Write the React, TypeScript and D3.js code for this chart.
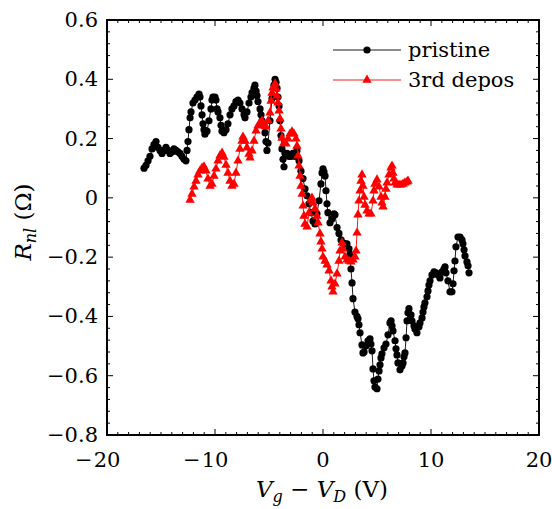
import React from "react";
import * as d3 from "d3";

const pristineV = [-16.57,-16.39,-16.2,-16.02,-15.83,-15.65,-15.46,-15.28,-15.09,-14.91,-14.72,-14.54,-14.35,-14.17,-13.98,-13.8,-13.61,-13.43,-13.24,-13.06,-12.87,-12.69,-12.59,-12.5,-12.41,-12.31,-12.22,-12.04,-11.85,-11.67,-11.48,-11.39,-11.3,-11.2,-11.11,-11.02,-10.93,-10.74,-10.56,-10.37,-10.28,-10.19,-10.0,-9.91,-9.81,-9.72,-9.54,-9.44,-9.35,-9.17,-8.98,-8.8,-8.61,-8.43,-8.24,-8.06,-7.87,-7.69,-7.5,-7.31,-7.22,-7.04,-6.85,-6.67,-6.57,-6.39,-6.3,-6.2,-6.11,-6.02,-5.83,-5.74,-5.65,-5.56,-5.37,-5.28,-5.19,-5.09,-4.91,-4.72,-4.54,-4.44,-4.35,-4.26,-4.17,-4.07,-3.98,-3.89,-3.8,-3.7,-3.61,-3.52,-3.33,-3.15,-2.96,-2.78,-2.59,-2.41,-2.22,-2.04,-1.85,-1.67,-1.48,-1.3,-1.11,-0.93,-0.74,-0.56,-0.37,-0.19,-0.09,0,0.09,0.19,0.28,0.37,0.46,0.65,0.83,1.02,1.11,1.3,1.48,1.67,1.85,2.04,2.22,2.41,2.5,2.59,2.69,2.78,2.96,3.15,3.24,3.33,3.43,3.61,3.7,3.8,3.98,4.17,4.35,4.44,4.54,4.63,4.72,4.81,5.0,5.09,5.19,5.28,5.37,5.46,5.65,5.83,6.02,6.2,6.3,6.39,6.48,6.67,6.76,6.85,6.94,7.13,7.31,7.41,7.5,7.59,7.69,7.78,7.87,7.96,8.15,8.24,8.43,8.52,8.7,8.89,8.98,9.17,9.26,9.35,9.44,9.63,9.72,9.81,9.91,10.09,10.28,10.46,10.65,10.83,11.02,11.2,11.3,11.39,11.57,11.76,11.94,12.04,12.13,12.22,12.31,12.5,12.69,12.87,12.96,13.06,13.15,13.33,13.43,13.52];
const pristineR = [0.1,0.11,0.125,0.14,0.165,0.18,0.19,0.17,0.16,0.15,0.16,0.17,0.16,0.15,0.155,0.165,0.16,0.155,0.15,0.14,0.13,0.125,0.16,0.19,0.23,0.27,0.29,0.32,0.33,0.34,0.35,0.34,0.31,0.28,0.25,0.23,0.215,0.225,0.26,0.3,0.33,0.34,0.34,0.33,0.3,0.29,0.27,0.245,0.225,0.22,0.23,0.25,0.28,0.3,0.31,0.325,0.33,0.32,0.3,0.28,0.27,0.29,0.32,0.34,0.355,0.37,0.38,0.36,0.345,0.325,0.3,0.28,0.26,0.245,0.22,0.19,0.16,0.185,0.26,0.335,0.38,0.4,0.39,0.37,0.34,0.31,0.26,0.21,0.165,0.13,0.105,0.15,0.15,0.14,0.14,0.15,0.14,0.16,0.125,0.09,0.065,0.03,0.007,-0.02,-0.05,-0.078,-0.088,-0.054,-0.01,0.047,0.084,0.098,0.088,0.074,0.024,-0.02,-0.05,-0.084,-0.071,-0.054,-0.057,-0.1,-0.12,-0.142,-0.152,-0.155,-0.155,-0.172,-0.19,-0.24,-0.287,-0.34,-0.385,-0.4,-0.408,-0.428,-0.455,-0.496,-0.523,-0.52,-0.5,-0.482,-0.476,-0.493,-0.516,-0.577,-0.617,-0.638,-0.644,-0.611,-0.584,-0.563,-0.54,-0.526,-0.506,-0.493,-0.462,-0.422,-0.415,-0.432,-0.449,-0.482,-0.509,-0.53,-0.557,-0.58,-0.567,-0.557,-0.536,-0.523,-0.472,-0.415,-0.388,-0.374,-0.395,-0.415,-0.432,-0.442,-0.455,-0.435,-0.422,-0.405,-0.385,-0.368,-0.354,-0.334,-0.314,-0.294,-0.28,-0.26,-0.25,-0.253,-0.26,-0.27,-0.25,-0.24,-0.233,-0.253,-0.28,-0.317,-0.317,-0.29,-0.246,-0.213,-0.165,-0.132,-0.132,-0.142,-0.155,-0.175,-0.196,-0.216,-0.229,-0.253];

const deposV = [-12.31,-12.13,-11.94,-11.76,-11.57,-11.39,-11.2,-11.02,-10.83,-10.65,-10.46,-10.28,-10.09,-9.91,-9.72,-9.54,-9.35,-9.17,-8.98,-8.8,-8.61,-8.43,-8.24,-8.06,-7.87,-7.69,-7.5,-7.41,-7.22,-7.04,-6.85,-6.76,-6.57,-6.39,-6.2,-6.02,-5.83,-5.65,-5.46,-5.28,-5.09,-4.91,-4.81,-4.72,-4.63,-4.44,-4.35,-4.26,-4.17,-4.07,-3.98,-3.89,-3.8,-3.61,-3.43,-3.24,-3.06,-2.87,-2.69,-2.5,-2.41,-2.31,-2.22,-2.13,-2.04,-1.94,-1.85,-1.76,-1.67,-1.48,-1.3,-1.11,-1.02,-0.93,-0.74,-0.56,-0.46,-0.28,-0.19,-0.09,0,0.19,0.37,0.56,0.74,0.83,0.93,1.11,1.3,1.48,1.57,1.76,1.85,2.04,2.22,2.41,2.59,2.78,2.96,3.06,3.15,3.24,3.33,3.43,3.52,3.61,3.7,3.8,3.89,4.07,4.26,4.44,4.63,4.72,4.81,5.0,5.19,5.37,5.46,5.56,5.74,5.83,5.93,6.11,6.3,6.39,6.48,6.57,6.67,6.85,7.04,7.22,7.41,7.59,7.78,7.87];
const deposR = [-0.007,0.013,0.037,0.057,0.078,0.091,0.101,0.105,0.091,0.064,0.04,0.047,0.074,0.098,0.125,0.142,0.152,0.138,0.111,0.084,0.057,0.04,0.047,0.084,0.125,0.165,0.192,0.206,0.192,0.169,0.148,0.135,0.159,0.192,0.226,0.243,0.253,0.26,0.246,0.24,0.26,0.287,0.327,0.354,0.371,0.385,0.368,0.344,0.321,0.294,0.267,0.233,0.202,0.186,0.182,0.199,0.216,0.223,0.216,0.199,0.175,0.142,0.108,0.074,0.04,0.013,-0.027,-0.061,-0.088,-0.098,-0.051,-0.007,0,-0.017,-0.037,-0.061,-0.084,-0.121,-0.148,-0.172,-0.199,-0.213,-0.226,-0.246,-0.28,-0.3,-0.317,-0.29,-0.256,-0.213,-0.179,-0.152,-0.172,-0.199,-0.209,-0.213,-0.216,-0.209,-0.199,-0.179,-0.118,-0.057,-0.01,0.024,0.057,0.078,0.04,0.003,-0.024,-0.044,-0.054,-0.054,-0.01,0.024,0.047,0.061,0.037,0.003,-0.017,-0.03,0.003,0.03,0.051,0.078,0.101,0.108,0.084,0.064,0.051,0.044,0.044,0.044,0.047,0.051,0.054,0.057];

const xTicks = [-20, -10, 0, 10, 20];
const yTicks = [0.6, 0.4, 0.2, 0, -0.2, -0.4, -0.6, -0.8];
const seriesNames = ["pristine", "3rd depos"];

const W = 552, H = 509;
const L = 107, R = 539, T = 20, B = 435;
const FONT = "\"DejaVu Serif\", serif";
const FS = 21;
const txt: React.CSSProperties = { fontFamily: FONT };

export default function App() {
  const x = d3.scaleLinear().domain([-20, 20]).range([L, R]);
  const y = d3.scaleLinear().domain([-0.8, 0.6]).range([B, T]);
  const pData = pristineV.map((v, i) => [v, pristineR[i]] as [number, number]);
  const dData = deposV.map((v, i) => [v, deposR[i]] as [number, number]);
  const line = d3.line<[number, number]>().x(d => x(d[0])).y(d => y(d[1]));
  const tri = d3.symbol().type(d3.symbolTriangle).size(38)()!;

  const xMinor = d3.range(-20, 21, 1).filter(v => v % 10 !== 0);
  const yMinor = d3.range(-20, 16, 1).map(k => k * 0.04).filter(v => Math.abs(Math.round(v * 100) % 20) !== 0);

  const fmtY = (v: number) => (v === 0 ? "0" : (v < 0 ? "\u2212" : "") + Math.abs(v).toFixed(1));

  return (
    <svg width={W} height={H} style={{ position: "absolute", left: 0, top: 0, background: "#fff" }}>
      <rect x={0} y={0} width={W} height={H} fill="#fff" />
      <path d={line(pData)!} fill="none" stroke="#000" strokeWidth={0.9} />
      {pData.map((d, i) => (
        <circle key={"p" + i} cx={x(d[0])} cy={y(d[1])} r={3.6} fill="#000" />
      ))}
      <path d={line(dData)!} fill="none" stroke="#ff0000" strokeWidth={0.9} />
      {dData.map((d, i) => (
        <path key={"d" + i} d={tri} transform={`translate(${x(d[0])},${y(d[1])})`} fill="#ff0000" />
      ))}
      <g stroke="#000" strokeWidth={1}>
        {xMinor.map(v => (
          <g key={"xm" + v}>
            <line x1={x(v)} x2={x(v)} y1={B} y2={B - 3} />
            <line x1={x(v)} x2={x(v)} y1={T} y2={T + 3} />
          </g>
        ))}
        {xTicks.map(v => (
          <g key={"xM" + v}>
            <line x1={x(v)} x2={x(v)} y1={B} y2={B - 6} />
            <line x1={x(v)} x2={x(v)} y1={T} y2={T + 6} />
          </g>
        ))}
        {yMinor.map(v => (
          <g key={"ym" + v}>
            <line x1={L} x2={L + 3} y1={y(v)} y2={y(v)} />
            <line x1={R} x2={R - 3} y1={y(v)} y2={y(v)} />
          </g>
        ))}
        {yTicks.map(v => (
          <g key={"yM" + v}>
            <line x1={L} x2={L + 6} y1={y(v)} y2={y(v)} />
            <line x1={R} x2={R - 6} y1={y(v)} y2={y(v)} />
          </g>
        ))}
      </g>
      <rect x={L} y={T} width={R - L} height={B - T} fill="none" stroke="#000" strokeWidth={2} />
      {xTicks.map(v => {
        const digits = String(Math.abs(v));
        const w = digits.length * FS * 0.636;
        return (
          <g key={"xl" + v}>
            <text x={x(v)} y={467} textAnchor="middle" fontSize={FS} style={txt}>{digits}</text>
            {v < 0 && <text x={x(v) - w / 2 - 1} y={467} textAnchor="end" fontSize={FS} style={txt}>{"\u2212"}</text>}
          </g>
        );
      })}
      {yTicks.map(v => (
        <text key={"yl" + v} x={98} y={y(v) + 7} textAnchor="end" fontSize={FS} style={txt}>{fmtY(v)}</text>
      ))}
      <text x={322} y={497} textAnchor="middle" fontSize={23} style={txt}>
        <tspan fontStyle="italic">V</tspan>
        <tspan fontStyle="italic" fontSize={16} dy={5}>g</tspan>
        <tspan dy={-5}>{" \u2212 "}</tspan>
        <tspan fontStyle="italic">V</tspan>
        <tspan fontStyle="italic" fontSize={16} dy={5}>D</tspan>
        <tspan dy={-5}>{"  (V)"}</tspan>
      </text>
      <text transform={`translate(31,${222}) rotate(-90)`} textAnchor="middle" fontSize={23} style={txt}>
        <tspan fontStyle="italic">R</tspan>
        <tspan fontStyle="italic" fontSize={16} dy={5}>nl</tspan>
        <tspan dy={-5}>{"  (\u03A9)"}</tspan>
      </text>
      <g>
        <line x1={333} x2={401} y1={50} y2={50} stroke="#000" strokeWidth={0.9} />
        <circle cx={367} cy={50} r={3.6} fill="#000" />
        <text x={408} y={57} fontSize={FS} style={txt}>{seriesNames[0]}</text>
        <line x1={333} x2={401} y1={80} y2={80} stroke="#ff0000" strokeWidth={0.9} />
        <path d={tri} transform="translate(367,80)" fill="#ff0000" />
        <text x={408} y={87} fontSize={FS} style={txt}>{seriesNames[1]}</text>
      </g>
    </svg>
  );
}
